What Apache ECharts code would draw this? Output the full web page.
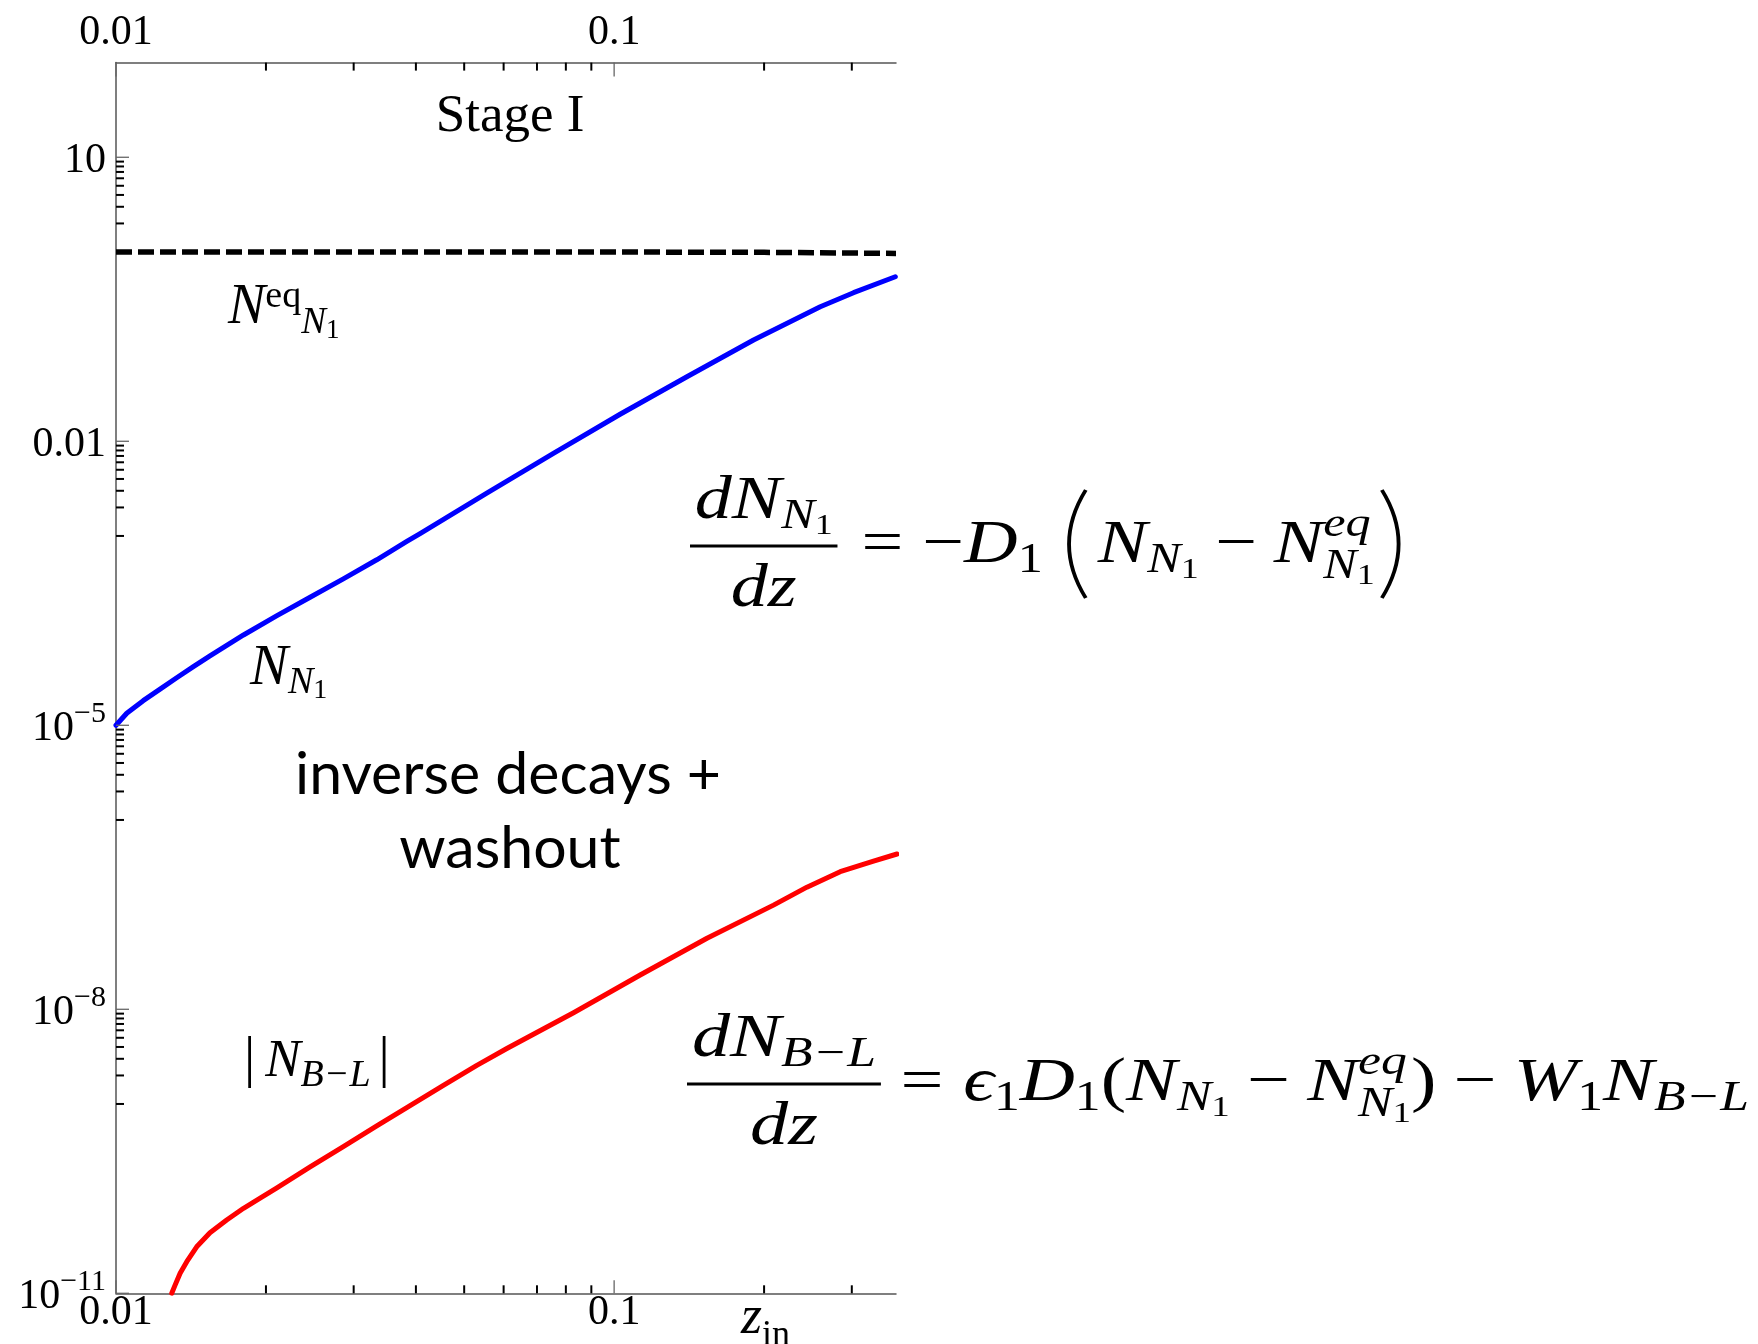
<!DOCTYPE html>
<html>
<head>
<meta charset="utf-8">
<title>Stage I</title>
<script src="https://cdn.jsdelivr.net/npm/echarts@6.0.0/dist/echarts.min.js"></script>
<style>
  html, body { margin: 0; padding: 0; background: #fff; }
  #chart { width: 1758px; height: 1344px; }
</style>
</head>
<body>
<div id="chart"></div>
<script>
// values (z on x, abundance on y)
const zBlue = [0.01, 0.01051, 0.01134, 0.01226, 0.01324, 0.0143, 0.01544, 0.01803, 0.0210, 0.02453,
  0.0286, 0.03338, 0.03835, 0.04078, 0.05551, 0.07553, 0.1028, 0.14, 0.1905, 0.2593, 0.3024, 0.3668];
const nN1 = [1.0e-5, 1.34e-5, 1.82e-5, 2.41e-5, 3.18e-5, 4.16e-5, 5.40e-5, 8.99e-5, 1.43e-4, 2.25e-4,
  3.52e-4, 5.6e-4, 8.75e-4, 1.06e-3, 2.83e-3, 7.46e-3, 1.93e-2, 4.81e-2, 0.1175, 0.264, 0.371, 0.547];

const zRed = [0.01294, 0.01314, 0.01345, 0.01387, 0.01452, 0.01544, 0.01668, 0.01803, 0.01947, 0.0210,
  0.02453, 0.0286, 0.03338, 0.03894, 0.04542, 0.05301, 0.0609, 0.0829, 0.1128, 0.1536, 0.2089, 0.2438,
  0.2843, 0.3317, 0.3697];
const nBL = [1.0e-11, 1.22e-11, 1.63e-11, 2.16e-11, 3.10e-11, 4.37e-11, 5.94e-11, 7.91e-11, 1.01e-10, 1.29e-10,
  2.17e-10, 3.54e-10, 5.86e-10, 9.59e-10, 1.57e-9, 2.56e-9, 3.85e-9, 9.2e-9, 2.30e-8, 5.62e-8, 1.26e-7, 1.95e-7,
  2.84e-7, 3.68e-7, 4.37e-7];

const zEq = [0.01, 0.05, 0.1, 0.2, 0.368];
const nEq = [1.0, 1.0, 0.998, 0.99, 0.965];

// axes
const X_MIN = 0.01, X_MAX = 0.368;
const Y_MIN = 1e-11, Y_MAX = 100;
const xTickValues = [0.01, 0.1];
const xTickLabels = ['0.01', '0.1'];
const xMinorTicks = [0.02, 0.03, 0.04, 0.05, 0.06, 0.07, 0.08, 0.09, 0.2, 0.3];
const yTickValues = [1e-11, 1e-8, 1e-5, 0.01, 10];
const yTickBase = ['10', '10', '10', '0.01', '10'];
const yTickExp = ['−11', '−8', '−5', '', ''];
const yMinorDecades = [1e-9, 1e-6, 1e-3, 1];
const yMinorMantissas = [1, 2, 3, 4, 5, 6, 7, 8, 9];
const yMinorTicks = [];
yMinorDecades.forEach(d => yMinorMantissas.forEach(m => yMinorTicks.push(m * d)));

const SERIF = '"Liberation Serif", "DejaVu Serif", serif';
const SANS = 'Lato, "Open Sans", sans-serif';

// text helpers: place glyph runs by baseline
const mctx = document.createElement('canvas').getContext('2d');
function fontStr(sz, it, fam) { return (it ? 'italic ' : '') + sz + 'px ' + (fam || SERIF); }
function textW(t, sz, it, fam) { mctx.font = fontStr(sz, it, fam); return mctx.measureText(t).width; }
function midOff(sz, it, fam) {
  mctx.font = fontStr(sz, it, fam);
  mctx.textBaseline = 'middle';
  const d = mctx.measureText('x').actualBoundingBoxDescent;
  mctx.textBaseline = 'alphabetic';
  return d;
}
function word(t, x, base, sz, it, align, fam) {
  return {
    type: 'text', x: x, y: base - midOff(sz, it, fam), silent: true,
    style: { text: t, font: fontStr(sz, it, fam), fill: '#000', align: align || 'left', verticalAlign: 'middle' }
  };
}

const F = 62, S = 42, SS = 30;
function I(t, o) { return Object.assign({ t: t, it: true }, o); }
function R(t, o) { return Object.assign({ t: t, it: false }, o); }

function run(tokens, x, base, out) {
  tokens.forEach(k => {
    x += k.dx || 0;
    if (k.frac) {
      const wn = run(k.frac[0], 0, 0, []), wd = run(k.frac[1], 0, 0, []);
      const w = Math.max(wn, wd) + 8;
      run(k.frac[0], x + (w - wn) / 2, base - k.up, out);
      run(k.frac[1], x + (w - wd) / 2, base + k.down, out);
      out.push({ type: 'rect', silent: true, shape: { x: x, y: base - k.axis - 1.4, width: w, height: 2.8 }, style: { fill: '#000' } });
      x += w;
    } else if (k.stack) {
      let w = 0;
      k.stack.forEach(row => { w = Math.max(w, run(row, x, base, out) - x); });
      x += w;
    } else if (k.paren) {
      const y1 = base - k.top, y2 = base + k.bot, open = k.paren === '(';
      const xe = open ? x + k.w : x, xc = open ? x - k.w : x + 2 * k.w;
      out.push({ type: 'bezierCurve', silent: true,
        shape: { x1: xe, y1: y1, x2: xe, y2: y2, cpx1: xc, cpy1: (y1 + y2) / 2 },
        style: { stroke: '#000', lineWidth: 3.2, fill: null } });
      x += k.w + 2;
    } else {
      const sz = k.sz || F;
      out.push(word(k.t, x, base + (k.dy || 0), sz, k.it));
      x += textW(k.t, sz, k.it);
    }
  });
  return x;
}

function equation(tokens, x0, base, target) {
  const w = run(tokens, 0, base, []);
  const children = [];
  run(tokens, 0, base, children);
  return { type: 'group', x: x0, y: 0, scaleX: target / w, children: children };
}

const den = [I('d'), I('z')];
const eqStack = { stack: [[I('eq', { sz: S, dy: -26 })], [I('N', { sz: S, dy: 16 }), R('1', { sz: SS, dy: 22 })]] };

const eq1 = [
  { frac: [[I('d'), I('N'), I('N', { sz: S, dy: 10 }), R('1', { sz: SS, dy: 16 })], den], up: 44, down: 44, axis: 16 },
  R('=', { dx: 20 }), R('−', { dx: 16 }), I('D'), R('1', { sz: S, dy: 10 }),
  { paren: '(', dx: 22, top: 72, bot: 36, w: 14 },
  I('N', { dx: 8 }), I('N', { sz: S, dy: 10 }), R('1', { sz: SS, dy: 16 }),
  R('−', { dx: 14 }), I('N', { dx: 14 }), eqStack,
  { paren: ')', dx: 6, top: 72, bot: 36, w: 14 }
];

const eq2 = [
  { frac: [[I('d'), I('N'), I('B−L', { sz: S, dy: 10 })], den], up: 44, down: 44, axis: 16 },
  R('=', { dx: 16 }), I('ϵ', { dx: 16 }), R('1', { sz: S, dy: 10 }), I('D'), R('1', { sz: S, dy: 10 }),
  R('('), I('N'), I('N', { sz: S, dy: 10 }), R('1', { sz: SS, dy: 16 }),
  R('−', { dx: 14 }), I('N', { dx: 14 }), eqStack, R(')'),
  R('−', { dx: 14 }), I('W', { dx: 14 }), R('1', { sz: S, dy: 10 }), I('N'), I('B−L', { sz: S, dy: 10 })
];

const elements = [];
elements.push(word('Stage I', 510, 131, 53, false, 'center'));
elements.push(word('inverse decays +', 508, 794, 59, false, 'center', SANS));
elements.push(word('washout', 510, 868, 59, false, 'center', SANS));
run([I('N', { sz: 56 }), R('eq', { sz: 38, dy: -16 }), I('N', { sz: 37, dy: 10 }), R('1', { sz: 27, dy: 15 })], 228, 323, elements);
run([I('N', { sz: 57 }), I('N', { sz: 38, dy: 9 }), R('1', { sz: 28, dy: 14 })], 250, 684, elements);
run([R('|', { sz: 56 }), I('N', { sz: 53, dx: 10 }), I('B−L', { sz: 38, dy: 10 }), R('|', { sz: 56, dx: 8 })], 244, 1076, elements);
run([I('z', { sz: 54 }), R('in', { sz: 36, dy: 12 })], 741, 1333, elements);
elements.push(equation(eq1, 690, 562, 711));
elements.push(equation(eq2, 687, 1100, 1062));

// ticks and tick labels drawn through the axes' own coordinate mapping
function tickSeries(values, side, len, color, width) {
  return {
    type: 'custom', silent: true, clip: false, z: 5,
    data: values.map(v => side === 'left' ? [X_MIN, v] : (side === 'bottom' ? [v, Y_MIN] : [v, Y_MAX])),
    renderItem: (params, api) => {
      const p = api.coord([api.value(0), api.value(1)]);
      const d = side === 'left' ? [len, 0] : (side === 'bottom' ? [0, -len] : [0, len]);
      return { type: 'line', shape: { x1: p[0], y1: p[1], x2: p[0] + d[0], y2: p[1] + d[1] },
        style: { stroke: color, lineWidth: width } };
    }
  };
}

const yLabelSeries = {
  type: 'custom', silent: true, clip: false,
  data: yTickValues.map(v => [X_MIN, v]),
  renderItem: (params, api) => {
    const i = params.dataIndex;
    const p = api.coord([api.value(0), api.value(1)]);
    const right = p[0] - 10, base = p[1] + 15;
    const exp = yTickExp[i];
    const ew = exp ? textW(exp, 30) : 0;
    const kids = [word(yTickBase[i], right - ew, base, 42, false, 'right')];
    if (exp) kids.push(word(exp, right, base - 18, 30, false, 'right'));
    return { type: 'group', children: kids };
  }
};

function xLabelSeries(top) {
  return {
    type: 'custom', silent: true, clip: false,
    data: xTickValues.map(v => [v, top ? Y_MAX : Y_MIN]),
    renderItem: (params, api) => {
      const p = api.coord([api.value(0), api.value(1)]);
      const base = top ? p[1] - 19 : p[1] + 31;
      return word(xTickLabels[params.dataIndex], p[0], base, 42, false, 'center');
    }
  };
}

const axisLine = { show: true, onZero: false, lineStyle: { color: '#555', width: 1.5 } };
const logX = (pos) => ({
  type: 'log', logBase: 10, min: X_MIN, max: X_MAX, position: pos,
  axisLine: axisLine, axisTick: { show: false }, axisLabel: { show: false }, splitLine: { show: false }
});

const chart = echarts.init(document.getElementById('chart'));
chart.setOption({
  animation: false,
  backgroundColor: '#fff',
  grid: { left: 116, top: 62.6, width: 780, height: 1230.7 },
  xAxis: [logX('bottom'), logX('top')],
  yAxis: [{
    type: 'log', logBase: 10, min: Y_MIN, max: Y_MAX, position: 'left',
    axisLine: axisLine, axisTick: { show: false }, axisLabel: { show: false }, splitLine: { show: false }
  }],
  graphic: { elements: elements },
  series: [
    {
      name: 'N_eq', type: 'line', showSymbol: false, clip: true, z: 3,
      data: zEq.map((z, i) => [z, nEq[i]]),
      lineStyle: { color: '#000', width: 5.5, type: [16, 6] }
    },
    {
      name: 'N_N1', type: 'line', showSymbol: false, clip: true, smooth: false, z: 3,
      data: zBlue.map((z, i) => [z, nN1[i]]),
      lineStyle: { color: '#0000ff', width: 5, join: 'round', cap: 'round' }
    },
    {
      name: 'N_B-L', type: 'line', showSymbol: false, clip: true, smooth: false, z: 3,
      data: zRed.map((z, i) => [z, nBL[i]]),
      lineStyle: { color: '#ff0000', width: 5, join: 'round', cap: 'round' }
    },
    tickSeries(yTickValues, 'left', 13, '#666', 1.3),
    tickSeries(yMinorTicks, 'left', 8, '#000', 2),
    tickSeries(xTickValues, 'bottom', 13, '#666', 1.3),
    tickSeries(xMinorTicks, 'bottom', 8, '#000', 2),
    tickSeries(xTickValues, 'top', 14, '#666', 1.3),
    tickSeries(xMinorTicks, 'top', 8, '#000', 2),
    yLabelSeries,
    xLabelSeries(false),
    xLabelSeries(true)
  ]
});
</script>
</body>
</html>
